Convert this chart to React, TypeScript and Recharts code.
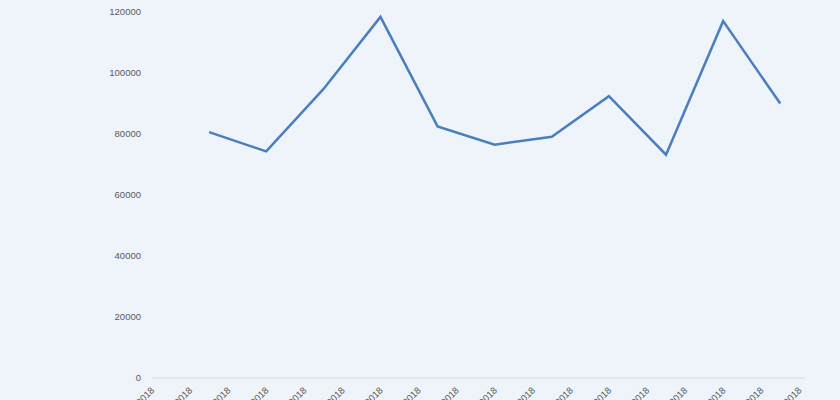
import React from 'react';
import { LineChart, Line, XAxis, YAxis } from 'recharts';

// x-axis labels, one every 2 days
const tickLabels = [
    '01/03/2018', '03/03/2018', '05/03/2018', '07/03/2018', '09/03/2018', '11/03/2018',
    '13/03/2018', '15/03/2018', '17/03/2018', '19/03/2018', '21/03/2018', '23/03/2018',
    '25/03/2018', '27/03/2018', '29/03/2018', '31/03/2018', '02/04/2018', '04/04/2018'
];
const tickDays = [0, 2, 4, 6, 8, 10, 12, 14, 16, 18, 20, 22, 24, 26, 28, 30, 32, 34];

// series: one reading every 3 days
const pointDays = [3, 6, 9, 12, 15, 18, 21, 24, 27, 30, 33];
const values = [80600, 74300, 94700, 118400, 82500, 76500, 79100, 92400, 73200, 117000, 90000];

const yTicks = [0, 20000, 40000, 60000, 80000, 100000, 120000];

const chartData = pointDays.map((d, i) => ({ day: d, value: values[i] }));

const labelFor = (day: number) => tickLabels[tickDays.indexOf(day)] ?? '';

const AngledTick = (props: any) => {
    const { x, y, payload } = props;
    return (
        <g transform={`translate(${x + 3},${y + 5})`}>
            <text
                x={0}
                y={0}
                textAnchor="end"
                fill="#595959"
                fontSize={9.5}
                fontFamily="'Liberation Sans', Arial, sans-serif"
                transform="rotate(-45)"
            >
                {labelFor(payload.value)}
            </text>
        </g>
    );
};

const App = () => {
    return (
        <div style={{ width: 840, height: 400, background: '#eef4f9' }}>
            <style>{'body{margin:0}'}</style>
            <LineChart width={840} height={400} data={chartData} margin={{ top: 12, right: 35, bottom: 0, left: 0 }}>
                <XAxis
                    dataKey="day"
                    type="number"
                    domain={[0, 34.3]}
                    ticks={tickDays}
                    interval={0}
                    allowDataOverflow
                    height={22}
                    tickLine={false}
                    axisLine={{ stroke: '#d9d9d9', strokeWidth: 1 }}
                    tick={<AngledTick />}
                />
                <YAxis
                    width={152}
                    domain={[0, 120000]}
                    ticks={yTicks}
                    interval={0}
                    axisLine={false}
                    tickLine={false}
                    tickMargin={5}
                    tick={{ fill: '#595959', fontSize: 9.5, fontFamily: "'Liberation Sans', Arial, sans-serif" }}
                />
                <Line
                    type="linear"
                    dataKey="value"
                    stroke="#4a7ebf"
                    strokeWidth={2.5}
                    dot={false}
                    isAnimationActive={false}
                />
            </LineChart>
        </div>
    );
};

export default App;
